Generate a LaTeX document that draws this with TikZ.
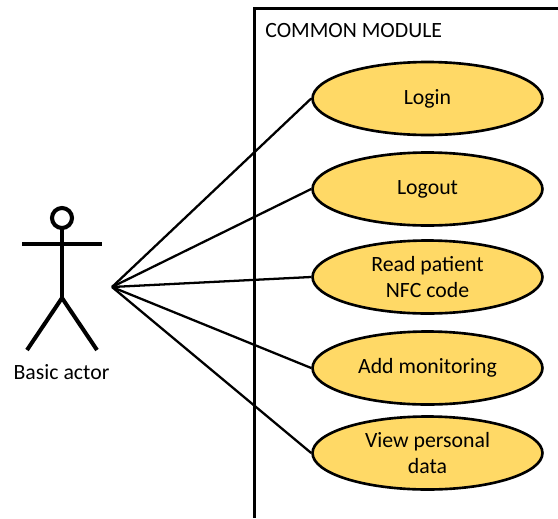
\documentclass[tikz,border=0pt]{standalone}
\usepackage{fontspec}
\setmainfont{Carlito}
\usepackage{tikz}
\usetikzlibrary{shapes.geometric}
\definecolor{usecase}{RGB}{255,217,102}
\tikzset{
    usecase/.style={ellipse, draw=black, line width=1.5pt, fill=usecase, minimum width=4.6cm, minimum height=1.46cm, inner sep=0pt, align=center, font=\fontsize{12.4}{15.2}\selectfont},
    stick/.style={line width=2.3pt},
    assoc/.style={line width=1.3pt}
}

\begin{document}
\begin{tikzpicture}[x=0.02cm, y=-0.02cm]
    \useasboundingbox (0, 0) rectangle (558, 518);

    % Module border
    \draw[line width=1.6pt] (558, 8.5) -- (254.5, 8.5) -- (254.5, 518);
    \node[anchor=west, inner sep=0pt, font=\fontsize{12.4}{14}\selectfont] (title) at (265, 31) {COMMON MODULE};

    % Actor
    \draw[stick] (62, 218) circle (10);
    \draw[stick] (22, 244) -- (102, 244);
    \draw[stick] (62, 229) -- (62, 298);
    \draw[stick] (27, 350) -- (62, 298) -- (97, 350);
    \node[inner sep=0pt, font=\fontsize{12.4}{14}\selectfont] (actor) at (61.5, 372) {Basic actor};
    \coordinate (hub) at (112, 287);

    % Use cases
    \node[usecase] (login) at (427.5, 98.5) {Login};
    \node[usecase] (logout) at (427.5, 189) {Logout};
    \node[usecase] (nfc) at (427.5, 277) {Read patient\\NFC code};
    \node[usecase] (monitoring) at (427.5, 368) {Add monitoring};
    \node[usecase] (personal) at (427.5, 453) {View personal\\data};

    \foreach \c in {login, logout, nfc, monitoring, personal} {
        \draw[assoc] (hub) -- (\c.west);
    }
\end{tikzpicture}
\end{document}
